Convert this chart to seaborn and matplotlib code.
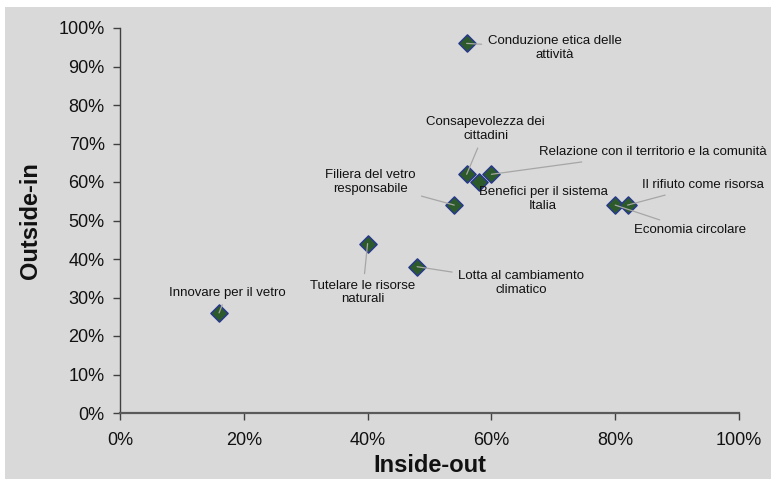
import matplotlib
matplotlib.use("Agg")
import matplotlib.pyplot as plt
import matplotlib.patches as mpatches
from matplotlib.ticker import PercentFormatter, MultipleLocator
import seaborn as sns
import pandas as pd

# ---- data ----
labels = [
    "Innovare per il vetro",
    "Tutelare le risorse\nnaturali",
    "Lotta al cambiamento\nclimatico",
    "Conduzione etica delle\nattività",
    "Consapevolezza dei\ncittadini",
    "Benefici per il sistema\nItalia",
    "Relazione con il territorio e la comunità",
    "Filiera del vetro\nresponsabile",
    "Economia circolare",
    "Il rifiuto come risorsa",
]
inside_out = [16, 40, 48, 56, 56, 58, 60, 54, 80, 82]
outside_in = [26, 44, 38, 96, 62, 60, 62, 54, 54, 54]

# label offsets in pixels (dx right, dy down), layout only
label_dx = [8, -5, 104, 88, 19, 64, 161, -84, 75, 75]
label_dy = [-20, 49, 16, 5, -45, 17, -22, -23, 25, -20]
leader = [True, True, True, True, True, False, True, True, True, True]

df = pd.DataFrame({"Inside-out": inside_out, "Outside-in": outside_in, "label": labels})

sns.set_theme(style="white")
plt.rcParams["font.family"] = ["Liberation Sans", "DejaVu Sans"]

W, H, DPI = 771, 479, 100
fig = plt.figure(figsize=(W / DPI, H / DPI), dpi=DPI, facecolor="white")
bg = "#d9d9d9"
fig.patches.append(mpatches.Rectangle((5 / W, 0), 1 - 5 / W, 1 - 7 / H,
                                      transform=fig.transFigure, facecolor=bg,
                                      edgecolor="none", zorder=-10))
ax = fig.add_axes([120 / W, 1 - 413 / H, (739 - 120) / W, (413 - 28) / H])
ax.set_facecolor("none")

sns.scatterplot(data=df, x="Inside-out", y="Outside-in", ax=ax, marker="D",
                s=76, color="#2d5a2a", edgecolor="#26398a", linewidth=1.1,
                zorder=3, clip_on=False)

ax.set_xlim(0, 100)
ax.set_ylim(0, 100)
ax.xaxis.set_major_locator(MultipleLocator(20))
ax.yaxis.set_major_locator(MultipleLocator(10))
ax.xaxis.set_major_formatter(PercentFormatter(100, decimals=0))
ax.yaxis.set_major_formatter(PercentFormatter(100, decimals=0))

for side in ["top", "right"]:
    ax.spines[side].set_visible(False)
ax.spines["left"].set_color("#404040")
ax.spines["left"].set_linewidth(1.0)
ax.spines["bottom"].set_color("#5a5a5a")
ax.spines["bottom"].set_linewidth(1.6)

ax.tick_params(axis="both", which="major", direction="out", length=5, width=1,
               color="#404040", labelsize=13, labelcolor="#111111", pad=6,
               bottom=True, left=True)
ax.tick_params(axis="x", pad=9)

ax.set_xlabel("Inside-out", fontsize=17, fontweight="bold", color="#111111", labelpad=3)
ax.set_ylabel("Outside-in", fontsize=17, fontweight="bold", color="#111111", labelpad=12)

px2pt = 72 / DPI
for lab, x, y, dx, dy, ld in zip(labels, inside_out, outside_in, label_dx, label_dy, leader):
    props = dict(arrowstyle="-", color="#a6a6a6", lw=0.9, shrinkA=2, shrinkB=0) if ld else None
    ax.annotate(lab, xy=(x, y), xytext=(dx * px2pt, -dy * px2pt),
                textcoords="offset points", ha="center", va="center",
                multialignment="center", fontsize=9.5, color="#111111",
                arrowprops=props, zorder=4, annotation_clip=False)

fig.savefig("out.png", dpi=DPI, facecolor="white")
